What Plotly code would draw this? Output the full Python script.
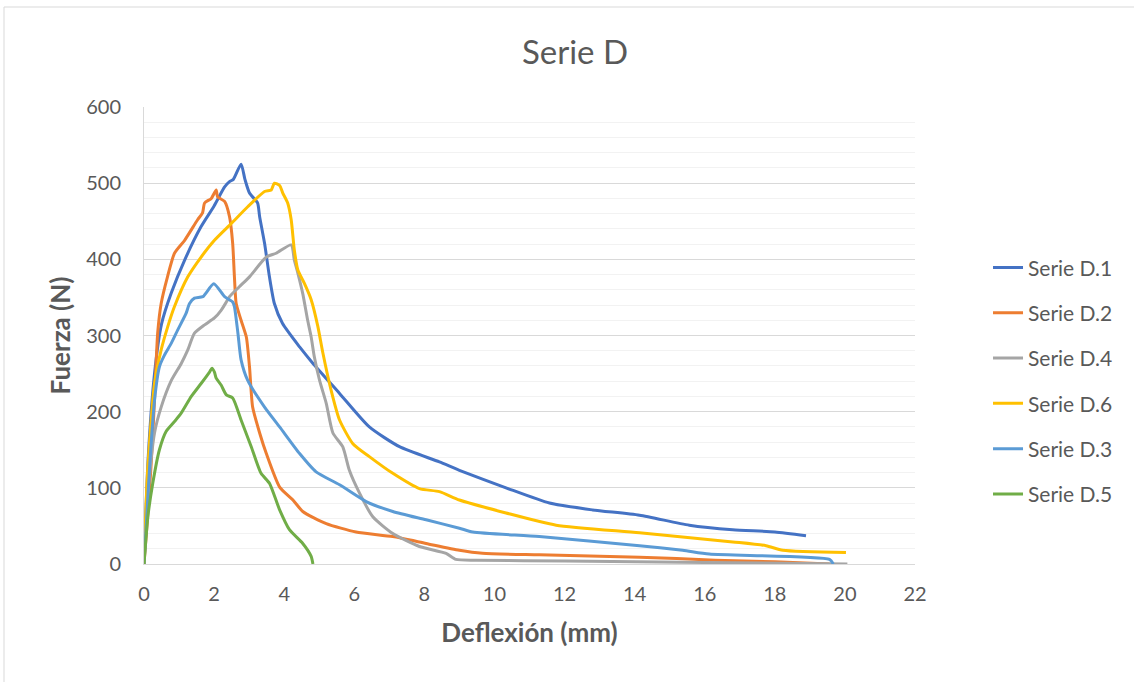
import plotly.graph_objects as go

# ---------------- data ----------------
d1_x = [0, 0.12, 0.3, 0.5, 0.78, 1.16, 1.63, 2.0, 2.3, 2.44, 2.55, 2.77, 2.88, 3.01, 3.24, 3.3, 3.44, 3.58, 3.72, 3.95, 4.44, 4.81, 5.58, 6.43, 7.29, 8.43, 9.0, 10.33, 11.57, 12.8, 14.14, 15.56, 16.8, 18.0, 18.89]
d1_y = [0, 140, 250, 315, 356, 399, 443, 470, 495, 502, 505, 525, 505, 487, 474, 456, 421, 377, 342, 316, 285, 264, 224, 180, 154, 134, 123, 100, 80, 71, 64, 51, 45, 42, 37]

d2_x = [0, 0.1, 0.2, 0.3, 0.39, 0.49, 0.67, 0.87, 1.16, 1.53, 1.67, 1.73, 1.92, 2.06, 2.1, 2.3, 2.44, 2.53, 2.58, 2.63, 2.77, 2.92, 3.01, 3.1, 3.3, 3.49, 3.87, 4.25, 4.53, 5.2, 6.05, 7.1, 8.05, 9.0, 9.66, 11.28, 14.14, 16.3, 18.0, 19.56]
d2_y = [0, 60, 128, 215, 303, 342, 377, 408, 425, 452, 461, 474, 480, 491, 482, 476, 456, 421, 377, 342, 320, 298, 259, 206, 172, 145, 101, 84, 69, 53, 42, 36, 27, 18, 14, 12, 9, 5, 3, 0]

d4_x = [0, 0.1, 0.3, 0.49, 0.78, 1.06, 1.25, 1.44, 1.73, 2.01, 2.2, 2.35, 2.44, 2.72, 3.01, 3.49, 3.77, 4.2, 4.29, 4.39, 4.53, 4.67, 4.77, 4.86, 5.01, 5.2, 5.39, 5.67, 5.86, 6.15, 6.53, 7.1, 7.86, 8.62, 8.9, 9.5, 12, 16, 20.07]
d4_y = [0, 84, 172, 206, 241, 263, 281, 303, 314, 323, 333, 344, 351, 364, 377, 403, 408, 419, 399, 382, 355, 320, 298, 272, 241, 211, 172, 154, 123, 93, 62, 40, 23, 14, 6, 5, 4, 2, 0]

d6_x = [0, 0.1, 0.3, 0.49, 0.68, 0.87, 1.25, 1.63, 2.01, 2.49, 2.96, 3.44, 3.63, 3.72, 3.87, 3.96, 4.1, 4.2, 4.29, 4.39, 4.58, 4.77, 4.96, 5.1, 5.34, 5.58, 5.96, 6.43, 7.1, 7.86, 8.43, 9.0, 10.33, 11.76, 14.14, 16.8, 17.75, 18.23, 20.03]
d6_y = [0, 120, 237, 281, 312, 338, 377, 403, 425, 447, 469, 489, 491, 500, 497, 487, 474, 452, 412, 386, 368, 347, 312, 278, 228, 189, 158, 141, 119, 99, 95, 84, 67, 51, 41, 29, 24, 18, 15]

d3_x = [0, 0.16, 0.3, 0.44, 0.58, 0.78, 0.96, 1.2, 1.3, 1.44, 1.68, 1.99, 2.3, 2.53, 2.58, 2.68, 2.77, 2.96, 3.44, 3.87, 4.44, 4.91, 5.58, 6.34, 7.1, 8.05, 9.0, 9.38, 11.28, 14.14, 15.37, 16.13, 19.56, 19.67]
d3_y = [0, 128, 215, 259, 274, 290, 307, 329, 342, 349, 351, 368, 351, 344, 338, 303, 268, 241, 206, 180, 145, 121, 104, 82, 69, 58, 47, 42, 36, 24, 18, 13, 6, 0]

d5_x = [0, 0.11, 0.25, 0.44, 0.63, 0.87, 1.06, 1.35, 1.63, 1.87, 1.94, 2.01, 2.06, 2.2, 2.35, 2.53, 2.77, 3.06, 3.34, 3.58, 3.87, 4.15, 4.53, 4.77, 4.82]
d5_y = [0, 62, 106, 150, 174, 187, 198, 220, 237, 252, 257, 252, 244, 235, 222, 218, 189, 154, 119, 106, 71, 45, 27, 10, 0]

series_names = ["Serie D.1", "Serie D.2", "Serie D.4", "Serie D.6", "Serie D.3", "Serie D.5"]
series_x = [d1_x, d2_x, d4_x, d6_x, d3_x, d5_x]
series_y = [d1_y, d2_y, d4_y, d6_y, d3_y, d5_y]
colors = ["#4472C4", "#ED7D31", "#A5A5A5", "#FFC000", "#5B9BD5", "#70AD47"]

x_ticks = [0, 2, 4, 6, 8, 10, 12, 14, 16, 18, 20, 22]
y_ticks = [0, 100, 200, 300, 400, 500, 600]

FONT = "Lato"
TXT = "#595959"

fig = go.Figure()
for name, xs, ys, c in zip(series_names, series_x, series_y, colors):
    fig.add_trace(go.Scatter(
        x=xs, y=ys, mode="lines", name=name, legendgroup=name,
        line=dict(color=c, width=3, shape="spline", smoothing=0.6),
    ))

fig.update_layout(
    width=1134, height=682,
    margin=dict(l=144, r=219, t=107, b=118),
    paper_bgcolor="white", plot_bgcolor="white",
    font=dict(family=FONT, color=TXT, size=20),
    title=dict(text="Serie D", x=575 / 1134, xanchor="center", xref="container",
               y=1 - 52 / 682, yanchor="middle", yref="container",
               font=dict(family=FONT, size=33, color=TXT)),
    showlegend=True,
    legend=dict(x=1.0947, y=0.693, xanchor="left", yanchor="top",
                font=dict(family=FONT, size=21, color=TXT),
                tracegroupgap=15, bgcolor="rgba(0,0,0,0)"),
    xaxis=dict(range=[0, 22], tickvals=x_ticks, ticktext=[str(v) for v in x_ticks],
               showgrid=False, zeroline=False, showline=True, linecolor="#D9D9D9", linewidth=1,
               ticks="", ticklabelstandoff=12,
               tickfont=dict(family=FONT, size=20, color=TXT),
               title=dict(text="<b>Deflexión (mm)</b>", standoff=19,
                          font=dict(family=FONT, size=26, color=TXT))),
    yaxis=dict(range=[0, 600], tickvals=y_ticks, ticktext=[str(v) for v in y_ticks],
               showgrid=True, gridcolor="#D9D9D9", gridwidth=1,
               minor=dict(dtick=20, showgrid=True, gridcolor="#F2F2F2", gridwidth=1),
               zeroline=False, showline=True, linecolor="#D9D9D9", linewidth=1,
               ticks="", ticklabelstandoff=18,
               tickfont=dict(family=FONT, size=20, color=TXT),
               title=dict(text="<b>Fuerza (N)</b>", standoff=8,
                          font=dict(family=FONT, size=26, color=TXT))),
)

# outer chart border
fig.add_shape(type="rect", xref="paper", yref="paper",
              x0=(4 - 144) / 771, x1=(1145 - 144) / 771,
              y0=(564 - 695) / 457, y1=(564 - 7) / 457,
              line=dict(color="#D9D9D9", width=1), fillcolor="rgba(0,0,0,0)", layer="below")

fig.write_html("out.html")
